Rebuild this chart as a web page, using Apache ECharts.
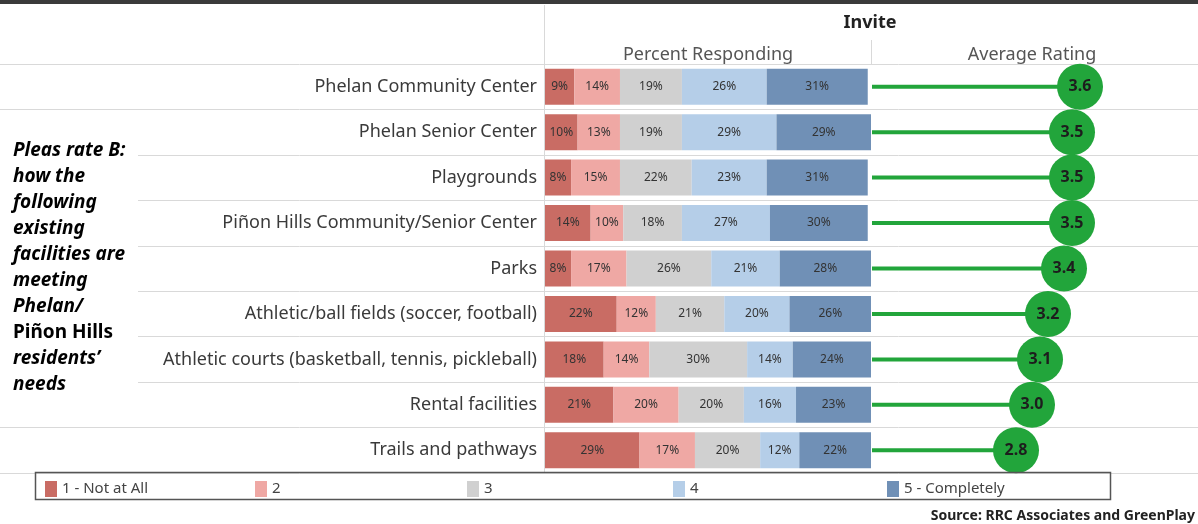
<!DOCTYPE html>
<html>
<head>
<meta charset="utf-8">
<script src="https://cdn.jsdelivr.net/npm/echarts@6/dist/echarts.min.js"></script>
<style>
  html, body { margin: 0; padding: 0; background: #fff; }
  #chart { width: 1198px; height: 524px; }
</style>
</head>
<body>
<div id="chart"></div>
<script>
const categories = [
  'Phelan Community Center',
  'Phelan Senior Center',
  'Playgrounds',
  'Piñon Hills Community/Senior Center',
  'Parks',
  'Athletic/ball fields (soccer, football)',
  'Athletic courts (basketball, tennis, pickleball)',
  'Rental facilities',
  'Trails and pathways'
]
const levelNames = ['1 - Not at All', '2', '3', '4', '5 - Completely']
const notAtAll = [9, 10, 8, 14, 8, 22, 18, 21, 29]
const level2 = [14, 13, 15, 10, 17, 12, 14, 20, 17]
const level3 = [19, 19, 22, 18, 26, 21, 30, 20, 20]
const level4 = [26, 29, 23, 27, 21, 20, 14, 16, 12]
const completely = [31, 29, 31, 30, 28, 26, 24, 23, 22]
const ratings = [3.6, 3.5, 3.5, 3.5, 3.4, 3.2, 3.1, 3.0, 2.8]

const levelColors = ['#c96c64', '#efa8a4', '#d0d0d0', '#b5cee8', '#7090b6']
const green = '#22a53b'
const font = 'Noto Sans'

const chart = echarts.init(document.getElementById('chart'))

const levelData = [notAtAll, level2, level3, level4, completely]
const barSeries = levelData.map((vals, i) => ({
  name: levelNames[i],
  type: 'bar',
  stack: 'pct',
  xAxisIndex: 0,
  yAxisIndex: 0,
  barWidth: 36,
  silent: true,
  itemStyle: { color: levelColors[i] },
  label: {
    show: true,
    position: 'inside',
    formatter: '{c}%',
    fontSize: 12,
    fontFamily: font,
    color: '#333'
  },
  data: vals
}))

// legend items spread evenly inside the box
const legendLeft = [40, 250, 462, 668, 882]
const legends = levelNames.map((name, i) => ({
  data: [name],
  left: legendLeft[i],
  top: 476,
  icon: 'rect',
  itemWidth: 12,
  itemHeight: 16,
  itemGap: 5,
  selectedMode: false,
  textStyle: { fontSize: 15, color: '#444', fontFamily: font }
}))

const leftText = [
  '{i|Pleas rate B:}', '{i|how the}', '{i|following}', '{i|existing}',
  '{i|facilities are}', '{i|meeting}', '{i|Phelan/}', '{n|Piñon Hills}',
  '{i|residents\u2019}', '{i|needs}'
].join('\n')

const headerName = { fontSize: 18, color: '#555', fontFamily: font }

const option = {
  animation: false,
  textStyle: { fontFamily: font },
  legend: legends,
  grid: [
    { left: 545, width: 326, top: 64, height: 409 },
    { left: 872, width: 320, top: 64, height: 409 },
    { left: 0, right: 0, top: 64, height: 409 }
  ],
  xAxis: [
    {
      gridIndex: 0,
      type: 'value',
      min: 0,
      max: 100,
      position: 'top',
      name: 'Percent Responding',
      nameLocation: 'middle',
      nameGap: 0,
      nameTextStyle: headerName,
      axisLabel: { show: false },
      axisLine: { show: false },
      axisTick: { show: false },
      splitLine: { show: false }
    },
    {
      gridIndex: 1,
      type: 'value',
      min: 1,
      max: 5,
      position: 'top',
      name: 'Average Rating',
      nameLocation: 'middle',
      nameGap: 0,
      nameTextStyle: headerName,
      axisLabel: { show: false },
      axisLine: { show: false },
      axisTick: { show: false },
      splitLine: { show: false }
    },
    { gridIndex: 2, type: 'value', show: false }
  ],
  yAxis: [
    {
      gridIndex: 0,
      type: 'category',
      data: categories,
      inverse: true,
      axisLine: { show: false },
      axisTick: { show: false },
      splitLine: { show: false },
      axisLabel: { fontSize: 18, color: '#3a3a3a', margin: 8, fontFamily: font }
    },
    { gridIndex: 1, type: 'category', data: categories, inverse: true, show: false },
    {
      gridIndex: 2,
      type: 'category',
      data: categories,
      inverse: true,
      axisLine: { show: false },
      axisTick: { show: false },
      axisLabel: { show: false },
      splitLine: { show: true, lineStyle: { color: '#d9d9d9', width: 1 } }
    }
  ],
  series: [
    ...barSeries,
    {
      name: 'stick',
      type: 'bar',
      xAxisIndex: 1,
      yAxisIndex: 1,
      barWidth: 4,
      clip: true,
      silent: true,
      itemStyle: { color: green },
      data: ratings
    },
    {
      name: 'rating',
      type: 'scatter',
      xAxisIndex: 1,
      yAxisIndex: 1,
      symbolSize: 46,
      silent: true,
      itemStyle: { color: green, opacity: 1 },
      label: {
        show: true,
        position: 'inside',
        formatter: (p) => p.value.toFixed(1),
        fontSize: 16,
        fontWeight: 'bold',
        color: '#1d1d1d',
        fontFamily: font
      },
      data: ratings
    }
  ],
  graphic: [
    { type: 'rect', z: 50, shape: { x: 0, y: 0, width: 1198, height: 4 }, style: { fill: '#3a3a3a' } },
    { type: 'line', z: 50, shape: { x1: 544.5, y1: 5, x2: 544.5, y2: 473 }, style: { stroke: '#d9d9d9', lineWidth: 1 } },
    { type: 'line', z: 50, shape: { x1: 871.5, y1: 40, x2: 871.5, y2: 64 }, style: { stroke: '#d9d9d9', lineWidth: 1 } },
    {
      type: 'text',
      z: 50,
      x: 870,
      y: 23,
      style: {
        text: 'Invite',
        font: 'bold 18px "Noto Sans"',
        fill: '#222',
        align: 'center',
        verticalAlign: 'middle',
        textAlign: 'center',
        textVerticalAlign: 'middle'
      }
    },
    { type: 'rect', z: 50, shape: { x: 0, y: 134, width: 138, height: 264 }, style: { fill: '#fff' } },
    {
      type: 'text',
      z: 51,
      x: 13,
      y: 138,
      style: {
        text: leftText,
        rich: {
          i: { fontSize: 19, fontWeight: 'bold', fontStyle: 'italic', lineHeight: 26, color: '#1a1a1a', fontFamily: font },
          n: { fontSize: 19, fontWeight: 'bold', lineHeight: 26, color: '#1a1a1a', fontFamily: font }
        }
      }
    },
    { type: 'rect', z: 50, shape: { x: 35.5, y: 472.5, width: 1075, height: 27 }, style: { fill: 'none', stroke: '#555', lineWidth: 1.5 } },
    {
      type: 'text',
      z: 50,
      x: 1195,
      y: 516,
      style: {
        text: 'Source: RRC Associates and GreenPlay',
        font: 'bold 14px "Noto Sans"',
        fill: '#222',
        align: 'right',
        verticalAlign: 'middle',
        textAlign: 'right',
        textVerticalAlign: 'middle'
      }
    }
  ]
}

chart.setOption(option)
</script>
</body>
</html>
